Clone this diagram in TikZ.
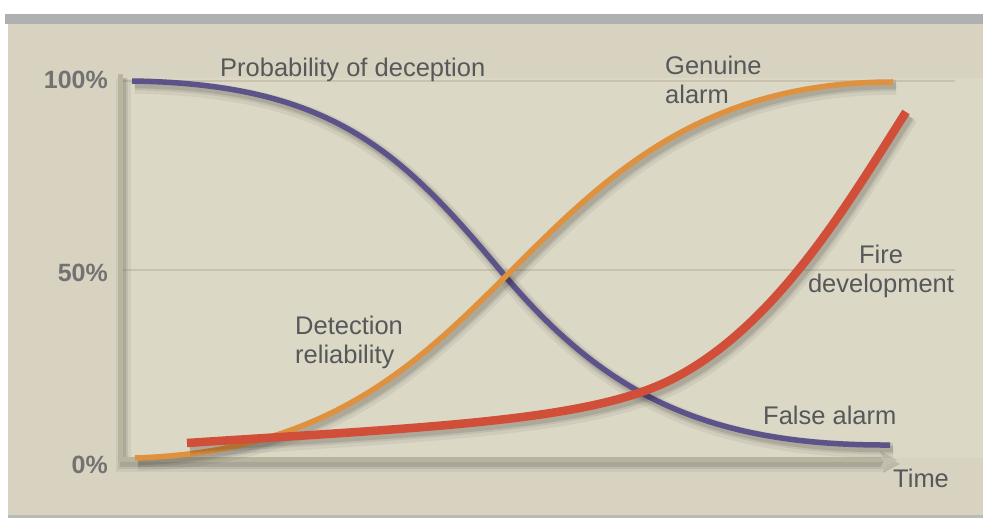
\documentclass[tikz,border=0pt]{standalone}
\usepackage{fontspec}
\setmainfont{Liberation Sans}
\usetikzlibrary{arrows.meta}
\definecolor{panel}{HTML}{D7D3C0}
\definecolor{plotbg}{HTML}{DBD8C6}
\definecolor{band}{HTML}{AEB0B2}
\definecolor{axiscol}{HTML}{B9B49E}
\definecolor{gridcol}{HTML}{C9C2AE}
\definecolor{curvepurple}{HTML}{5B5389}
\definecolor{curveorange}{HTML}{E0913E}
\definecolor{curvered}{HTML}{D14F39}
\definecolor{labeltext}{HTML}{56585A}
\definecolor{pcttext}{HTML}{727272}
\tikzset{
  softshadow/.style={
    preaction={draw=black,draw opacity=.05,line width=#1+10pt,transform canvas={shift={(3pt,-5pt)}}},
    preaction={draw=black,draw opacity=.07,line width=#1+5pt,transform canvas={shift={(3pt,-4pt)}}},
    preaction={draw=black,draw opacity=.10,line width=#1+1pt,transform canvas={shift={(3pt,-4pt)}}}},
  curve/.style={line width=#1,softshadow=#1},
  lbl/.style={font=\fontsize{25.5}{29}\selectfont,text=labeltext,inner sep=0pt},
  pct/.style={font=\fontsize{25}{29}\selectfont\bfseries,text=pcttext,inner sep=0pt,anchor=base east},
  gridline/.style={draw=gridcol,line width=2.5pt},
  axisline/.style={draw=axiscol,line width=5pt}
}
\begin{document}
\begin{tikzpicture}[x=1pt,y=-1pt]
\useasboundingbox (0,0) rectangle (983,518);
% page and panel
\fill[white] (0,0) rectangle (983,518);
\fill[band] (5,14) rectangle (983,24);
\fill[panel] (8,24) rectangle (983,515);
\fill[band!70!panel] (8,515) rectangle (983,518);
\fill[plotbg] (122,78) rectangle (983,458);

% grid lines
\coordinate (g100a) at (122,81);  \coordinate (g100b) at (955,81);
\coordinate (g50a)  at (122,270); \coordinate (g50b)  at (955,270);
\draw[gridline] (g100a) -- (g100b);
\draw[gridline] (g50a) -- (g50b);

% axes
\coordinate (origin) at (120,460);
\coordinate (ytop) at (120,74);
\coordinate (xend) at (882,460);
\coordinate (xtip) at (897,460);
\draw[axisline,softshadow=5pt] (ytop) -- (origin) -- (xend);
\fill[axiscol!85!white,preaction={fill=black,fill opacity=.12,transform canvas={shift={(3pt,-4pt)}}}]
  (xtip) -- (880,451) -- (884,460) -- (880,469) -- cycle;

% percentage labels
\node[pct] (p100) at (108,89)  {100\%};
\node[pct] (p50)  at (108,282) {50\%};
\node[pct] (p0)   at (108,474) {0\%};

% probability of deception / false alarm
\coordinate (dstart) at (132,81);
\coordinate (dmid) at (500,270);
\coordinate (dend) at (890,445);
\draw[curve=5.5pt,draw=curvepurple] (dstart) .. controls (330,84) and (400,150) .. (dmid)
   .. controls (600,390) and (700,446) .. (dend);

% detection reliability / genuine alarm
\coordinate (rstart) at (135,458);
\coordinate (rmid) at (512,270);
\coordinate (rend) at (893,82);
\draw[curve=5.5pt,draw=curveorange] (rstart) .. controls (330,452) and (420,362) .. (rmid)
   .. controls (604,178) and (700,82) .. (rend);

% fire development
\coordinate (fstart) at (187,443);
\coordinate (fmid) at (680,375);
\coordinate (fend) at (906,112);
\draw[curve=8.5pt,draw=curvered] (fstart) .. controls (450,426) and (600,420) .. (fmid)
   .. controls (780,320) and (850,200) .. (fend);

% curve labels (base anchor of a two-line node sits on its last line)
\node[lbl,anchor=base west] (ldec) at (220,77) {Probability of deception};
\node[lbl,anchor=base west,align=left] (lgen) at (665,104) {Genuine\\alarm};
\node[lbl,anchor=base west,align=left] (ldet) at (295,364) {Detection\\reliability};
\node[lbl,anchor=base,align=center] (lfire) at (881,293) {Fire\\development};
\node[lbl,anchor=base west] (lfalse) at (763,425) {False alarm};
\node[lbl,anchor=base west] (ltime) at (893,488) {Time};
\end{tikzpicture}
\end{document}
